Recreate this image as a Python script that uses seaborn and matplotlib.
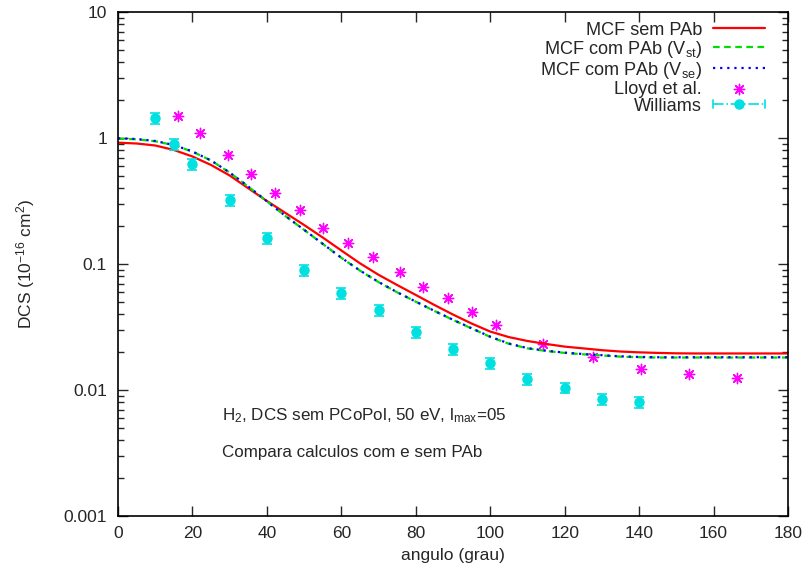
import numpy as np
import pandas as pd
import matplotlib
matplotlib.use("Agg")
import matplotlib.pyplot as plt
import seaborn as sns
from matplotlib.lines import Line2D
from matplotlib.legend_handler import HandlerBase

# Calculated differential cross sections (10^-16 cm^2) on a 5-degree grid
angle_calc = [0, 5, 10, 15, 20, 25, 30, 35, 40, 45, 50, 55, 60, 65, 70, 75, 80, 85, 90,
              95, 100, 105, 110, 115, 120, 125, 130, 135, 140, 145, 150, 155, 160, 165,
              170, 175, 180]
mcf_sem_pab = [0.9178, 0.9043, 0.8720, 0.8034, 0.7131, 0.6105, 0.5040, 0.3990, 0.3162,
               0.2540, 0.2039, 0.1623, 0.1280, 0.1013, 0.0821, 0.0681, 0.0568, 0.0473,
               0.0397, 0.0337, 0.0291, 0.0263, 0.0245, 0.0232, 0.0221, 0.0214, 0.0207,
               0.0202, 0.0199, 0.0197, 0.01955, 0.0195, 0.0195, 0.0195, 0.0195, 0.0195,
               0.0195]
mcf_pab_vst = [0.9880, 0.9760, 0.9420, 0.8770, 0.7800, 0.6620, 0.5315, 0.4115, 0.3140,
               0.2400, 0.1865, 0.1444, 0.1120, 0.0886, 0.0718, 0.0596, 0.0502, 0.0424,
               0.0360, 0.0308, 0.0264, 0.0233, 0.0214, 0.0204, 0.0197, 0.0192, 0.0188,
               0.0184, 0.0182, 0.0181, 0.0181, 0.0181, 0.0181, 0.0181, 0.0181, 0.0181,
               0.0181]
mcf_pab_vse = [0.9945, 0.9819, 0.9467, 0.8799, 0.7813, 0.6630, 0.5322, 0.4122, 0.3145,
               0.2404, 0.1868, 0.1446, 0.1122, 0.0888, 0.0720, 0.0597, 0.0503, 0.0425,
               0.0361, 0.0309, 0.0265, 0.0234, 0.0215, 0.0205, 0.0198, 0.0193, 0.0189,
               0.0185, 0.0183, 0.0182, 0.0182, 0.0182, 0.0182, 0.0182, 0.0182, 0.0182,
               0.0182]

# Measurements
lloyd_angle = [16.1, 22.0, 29.6, 35.7, 42.2, 48.9, 55.1, 61.8, 68.5, 75.8, 81.9, 88.7,
               95.1, 101.6, 114.2, 127.6, 140.5, 153.4, 166.3]
lloyd_dcs = [1.50, 1.10, 0.73, 0.52, 0.366, 0.268, 0.193, 0.147, 0.114, 0.0864, 0.0657,
             0.0537, 0.0416, 0.0328, 0.0232, 0.0183, 0.0147, 0.0134, 0.0125]

williams_angle = [10, 15, 20, 30, 40, 50, 60, 70, 80, 90, 100, 110, 120, 130, 140]
williams_dcs = [1.44, 0.90, 0.62, 0.32, 0.16, 0.0896, 0.059, 0.043, 0.029, 0.021,
                0.0164, 0.0122, 0.0104, 0.0085, 0.0080]
williams_err = [0.14, 0.09, 0.06, 0.032, 0.016, 0.009, 0.006, 0.0043, 0.0029, 0.0021,
                0.0016, 0.0012, 0.0010, 0.00085, 0.0008]

x_ticks = [0, 20, 40, 60, 80, 100, 120, 140, 160, 180]
y_ticks = [0.001, 0.01, 0.1, 1, 10]
y_tick_labels = ["0.001", "0.01", "0.1", "1", "10"]

sns.set_theme(style="ticks")
plt.rcParams["font.family"] = ["Liberation Sans", "DejaVu Sans"]
plt.rcParams["mathtext.fontset"] = "custom"
plt.rcParams["mathtext.rm"] = "Liberation Sans"
plt.rcParams["mathtext.it"] = "Liberation Sans"
plt.rcParams["mathtext.default"] = "regular"

RED, GREEN, BLUE = "#ff0000", "#00dd00", "#0000ff"
MAGENTA, CYAN = "#ff00ff", "#00e0e0"
FS = 12.5
FS_LEGEND = 13.1
FS_NOTE = 12.25

fig = plt.figure(figsize=(8.09, 5.71), dpi=100)
ax = fig.add_axes([0.1459, 0.0963, 0.8281, 0.8827])

calc = pd.DataFrame({"angle": angle_calc, "sem": mcf_sem_pab,
                     "vst": mcf_pab_vst, "vse": mcf_pab_vse})

sns.lineplot(data=calc, x="angle", y="sem", ax=ax, color=RED, lw=1.6,
             label="MCF sem PAb")
sns.lineplot(data=calc, x="angle", y="vst", ax=ax, color=GREEN, lw=1.6,
             label="MCF com PAb (V$_{st}$)")
ax.lines[-1].set_dashes([3, 2])
sns.lineplot(data=calc, x="angle", y="vse", ax=ax, color=BLUE, lw=1.6,
             label="MCF com PAb (V$_{se}$)")
ax.lines[-1].set_dashes([1, 2.2])

sns.scatterplot(x=lloyd_angle, y=lloyd_dcs, ax=ax, marker=(8, 2, 0), s=55,
                color=MAGENTA, linewidth=1.0, label="Lloyd et al.")

ax.errorbar(williams_angle, williams_dcs, yerr=williams_err, fmt="o", ms=6.5,
            color=CYAN, ecolor=CYAN, elinewidth=1.2, capsize=3.5, capthick=1.2,
            zorder=3)


class WilliamsHandler(HandlerBase):
    def create_artists(self, legend, orig_handle, xdescent, ydescent, width,
                       height, fontsize, trans):
        y = height / 2 - ydescent
        x0, x1 = -xdescent, width - xdescent
        line = Line2D([x0, x1], [y, y], color=CYAN, lw=1.2, ls="-.",
                      transform=trans)
        dot = Line2D([(x0 + x1) / 2], [y], marker="o", ms=6.5, color=CYAN,
                     transform=trans)
        cap_l = Line2D([x0, x0], [y - 3, y + 3], color=CYAN, lw=1.2,
                       transform=trans)
        cap_r = Line2D([x1, x1], [y - 3, y + 3], color=CYAN, lw=1.2,
                       transform=trans)
        return [line, dot, cap_l, cap_r]


williams_proxy = Line2D([], [], color=CYAN)
handles, labels = ax.get_legend_handles_labels()
handles = handles[:4] + [williams_proxy]
labels = labels[:4] + ["Williams"]
leg = ax.legend(handles, labels, loc="upper right", frameon=False,
                markerfirst=False, fontsize=FS_LEGEND, handlelength=2.86,
                labelspacing=0.0, borderaxespad=0.0, borderpad=0.0,
                handletextpad=0.6, bbox_to_anchor=(0.9657, 0.981),
                handler_map={williams_proxy: WilliamsHandler()})

ax.set_yscale("log")
ax.set_xlim(0, 180)
ax.set_ylim(0.001, 10)
ax.set_xticks(x_ticks)
ax.set_xticklabels([str(t) for t in x_ticks], fontsize=FS)
ax.set_yticks(y_ticks)
ax.set_yticklabels(y_tick_labels, fontsize=FS)
ax.tick_params(which="major", direction="in", length=7, width=1, top=True,
               right=True, pad=8)
ax.tick_params(axis="x", which="major", pad=7)
ax.tick_params(which="minor", direction="in", length=4, width=1, top=False,
               right=True)
ax.tick_params(axis="x", which="minor", bottom=False, top=False)
for s in ax.spines.values():
    s.set_linewidth(1.2)
    s.set_color("black")

ax.set_xlabel("angulo (grau)", fontsize=FS, labelpad=5)
ax.set_ylabel("DCS (10$^{-16}$ cm$^{2}$)", fontsize=FS, labelpad=19)

ax.text(28, 0.0063, "H$_2$, DCS sem PCoPol, 50 eV, l$_{max}$=05", fontsize=FS_NOTE,
        va="center", ha="left")
ax.text(28, 0.0032, "Compara calculos com e sem PAb", fontsize=FS_NOTE,
        va="center", ha="left")

fig.savefig("out.png", dpi=100)
